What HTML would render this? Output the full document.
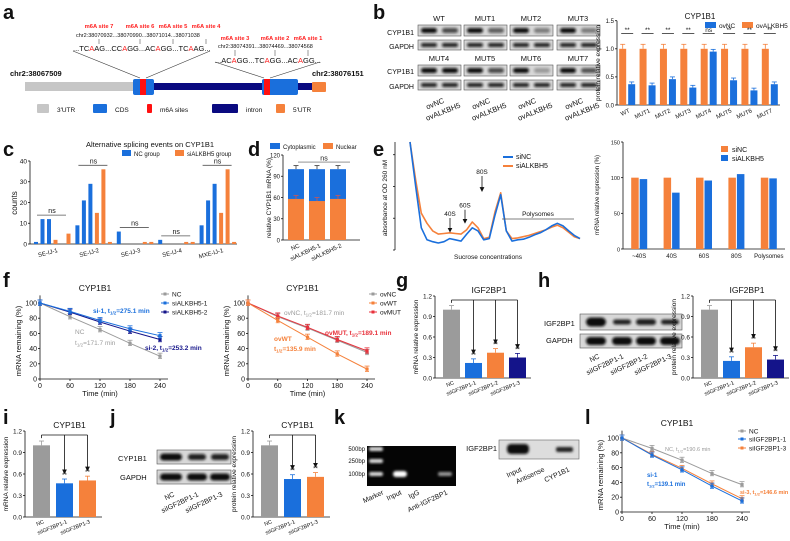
<!DOCTYPE html>
<html><head><meta charset="utf-8">
<style>
html,body{margin:0;padding:0;background:#fff;}
svg{display:block;font-family:"Liberation Sans",Arial,sans-serif;}
</style></head>
<body>
<svg id="fig" width="790" height="541" viewBox="0 0 790 541" xmlns="http://www.w3.org/2000/svg">
<defs>
<filter id="blur" x="-20%" y="-50%" width="140%" height="200%"><feGaussianBlur stdDeviation="1.2"/></filter>
<marker id="arr" markerWidth="6" markerHeight="6" refX="3" refY="3" orient="auto"><path d="M0,0 L6,3 L0,6 z" fill="#111"/></marker>
</defs>
<g id="root"></g>
</svg>
<script>
// ---------- data ----------
const bCats=["WT","MUT1","MUT2","MUT3","MUT4","MUT5","MUT6","MUT7"];
const bOvALKBH5=[1,1,1,1,1,1,1,1];
const bOvNC=[0.37,0.35,0.46,0.31,0.95,0.44,0.26,0.37];
const bSig=["**","**","**","**","ns","**","**","**"];
const cCats=["SE-IJ-1","SE-IJ-2","SE-IJ-3","SE-IJ-4","MXE-IJ-1"];
const cNC=[[1,12,12],[9,21,29],[6,0,0],[2,0,0],[9,21,29]];
const cSi=[[2,0,5],[15,36,1],[0,1,1],[0,1,1],[15,36,1]];
const dCats=["NC","siALKBH5-1","siALKBH5-2"];
const dNuclear=[58,55,58];
const dTotal=[100,100,100];
const eCats=["~40S","40S","60S","80S","Polysomes"];
const eSiNC=[100,100,100,100,100];
const eSiALKBH5=[98,79,96,105,99];
const eCurveNC=[1.9,1.2,0.55,0.36,0.33,0.31,0.33,0.38,0.36,0.34,0.45,0.55,0.5,0.36,0.38,0.75,1.07,0.5,0.34,0.36,0.37,0.4,0.44,0.47,0.52,0.58,0.62,0.58,0.5,0.43,0.38];
const eCurveSi=[1.9,1.3,0.78,0.62,0.5,0.45,0.46,0.47,0.46,0.45,0.52,0.64,0.55,0.38,0.4,0.8,1.1,0.5,0.38,0.39,0.41,0.43,0.46,0.49,0.52,0.56,0.59,0.55,0.48,0.41,0.38];
const times=[0,60,120,180,240];
const fNC=[100,82,65,47,30];
const fSi1=[100,89,77,66,57];
const fSi2=[100,88,75,63,52];
const fOvNC=[100,82,67,51,35];
const fOvWT=[100,77,55,33,13];
const fOvMUT=[100,83,68,52,37];
const gCats=["NC","siIGF2BP1-1","siIGF2BP1-2","siIGF2BP1-3"];
const gVals=[1.0,0.22,0.37,0.30];
const hVals=[1.0,0.25,0.45,0.27];
const iCats=["NC","siIGF2BP1-1","siIGF2BP1-3"];
const iVals=[1.0,0.47,0.51];
const jVals=[1.0,0.53,0.56];
const lNC=[100,86,70,52,37];
const lSi1=[100,77,57,35,15];
const lSi3=[100,78,59,38,18];

// ---------- helpers ----------
const NS="http://www.w3.org/2000/svg";
const root=document.getElementById('root');
const BLUE="#1a6fdc",ORANGE="#f5813b",GREY="#9b9b9b",NAVY="#14148a",RED="#e8323c";
function el(tag,attrs,parent,txt){const e=document.createElementNS(NS,tag);for(const k in attrs)e.setAttribute(k,attrs[k]);if(txt!==undefined)e.textContent=txt;(parent||root).appendChild(e);return e;}
function grp(name){const g=el('g',{});


return g;}
function txt(g,x,y,s,size,opt){opt=opt||{};const t=el('text',{x:x,y:y,'font-size':size,fill:opt.fill||'#111','text-anchor':opt.anchor||'start','font-weight':opt.bold?'bold':'normal'},g,s);if(opt.rot)t.setAttribute('transform','rotate('+opt.rot+' '+x+' '+y+')');return t;}
function line(g,x1,y1,x2,y2,c,w,extra){return el('line',Object.assign({x1:x1,y1:y1,x2:x2,y2:y2,stroke:c||'#111','stroke-width':w||0.8},extra||{}),g);}
function scale(d0,d1,r0,r1){return v=>r0+(v-d0)/(d1-d0)*(r1-r0);}
function yAxis(g,x,y,ticks,fmt,size){line(g,x,y(ticks[0]),x,y(ticks[ticks.length-1]),'#111',0.8);ticks.forEach(t=>{line(g,x-2,y(t),x,y(t));txt(g,x-3,y(t)+2.3,fmt(t),size||6.5,{anchor:'end'});});}
function panelLabel(s,x,y){const g=grp('panel-label-'+s);txt(g,x,y,s,20,{bold:true});}
function blot(g,x,y,w,h,bands,name){const b=grp(name);g.appendChild(b);el('rect',{x:x,y:y,width:w,height:h,fill:'#d8d8d8',stroke:'#555','stroke-width':0.6},b);bands.forEach(bd=>{el('rect',{x:bd[0]-bd[1]/2,y:y+h/2-bd[2]/2,width:bd[1],height:bd[2],rx:bd[2]/2,fill:'#111',opacity:bd[3]||1,filter:'url(#blur)'},b);});}
function errbar(g,x,ytop,yerr,c){line(g,x,ytop,x,yerr,c,0.8);line(g,x-2.5,yerr,x+2.5,yerr,c,0.8);}

// ---------- panel a ----------
panelLabel('a',3,19);
(function(){const g=grp('panel-a-gene-structure');
el('rect',{x:25,y:82,width:110,height:9,fill:'#c6c6c6'},g);
el('rect',{x:154,y:83,width:108,height:7,fill:'#0a0a80'},g);
el('rect',{x:297,y:83,width:16,height:7,fill:'#0a0a80'},g);
el('rect',{x:133,y:79,width:21,height:16,rx:2,fill:BLUE},g);
el('rect',{x:262,y:79,width:36,height:16,rx:2,fill:BLUE},g);
el('rect',{x:140,y:79,width:6,height:16,fill:'#ff1010'},g);
el('rect',{x:264,y:79,width:6,height:16,fill:'#ff1010'},g);
el('rect',{x:312,y:82,width:14,height:10,rx:1,fill:ORANGE},g);
txt(g,10,76,'chr2:38067509',7.5,{bold:true});
txt(g,312,76,'chr2:38076151',7.5,{bold:true});
line(g,73,51,140,78,'#333',0.6);line(g,210,51,146,78,'#333',0.6);
line(g,215,62,264,78,'#333',0.6);line(g,320,62,270,78,'#333',0.6);
const s1=['m6A site 7','m6A site 6','m6A site 5','m6A site 4'],x1=[99,140,173,206];
s1.forEach((s,i)=>txt(g,x1[i],28,s,5.8,{fill:'#ff1f1f',anchor:'middle',bold:true}));
txt(g,76,37,'chr2:38070932...38070990...38071014...38071038',5.5);
x1.forEach(x=>line(g,x,39,x,44,'#333',0.5));
const t1=el('text',{x:73,y:51,'font-size':7.5,fill:'#111'},g);t1.innerHTML='...TC<tspan fill="#ff1f1f">A</tspan>AG...CC<tspan fill="#ff1f1f">A</tspan>GG...AC<tspan fill="#ff1f1f">A</tspan>GG...TC<tspan fill="#ff1f1f">A</tspan>AG...';
const s2=['m6A site 3','m6A site 2','m6A site 1'],x2=[235,275,308];
s2.forEach((s,i)=>txt(g,x2[i],40,s,5.8,{fill:'#ff1f1f',anchor:'middle',bold:true}));
txt(g,218,48,'chr2:38074391...38074469...38074568',5.5);
x2.forEach(x=>line(g,x,50,x,56,'#333',0.5));
const t2=el('text',{x:215,y:63,'font-size':7.5,fill:'#111'},g);t2.innerHTML='...AC<tspan fill="#ff1f1f">A</tspan>GG...TC<tspan fill="#ff1f1f">A</tspan>GG...AC<tspan fill="#ff1f1f">A</tspan>GG...';
const lg=[[37,'#c6c6c6',12,"3'UTR"],[93,BLUE,14,'CDS'],[147,'#ff1010',5,'m6A sites'],[212,'#0a0a80',26,'intron'],[276,ORANGE,9,"5'UTR"]];
lg.forEach(l=>{el('rect',{x:l[0],y:104,width:l[2],height:9,rx:1,fill:l[1]},g);txt(g,l[0]+l[2]+8,112,l[3],6.5);});
})();

// ---------- panel b ----------
panelLabel('b',373,19);
(function(){const g=grp('panel-b-blots');
txt(g,414,35,'CYP1B1',7,{anchor:'end'});txt(g,414,49,'GAPDH',7,{anchor:'end'});
txt(g,414,74,'CYP1B1',7,{anchor:'end'});txt(g,414,89,'GAPDH',7,{anchor:'end'});
const names=[['WT','MUT1','MUT2','MUT3'],['MUT4','MUT5','MUT6','MUT7']];
const cols=[418,464,510,557];
const ncOp=[[0.7,0.6,0.45,0.45],[1,0.7,0.3,0.65]];
for(let r=0;r<2;r++)for(let c=0;c<4;c++){const x=cols[c],y=r?58:18;
txt(g,x+21,y+3,names[r][c],7.5,{anchor:'middle'});
blot(g,x,y+7,43,11,[[x+11,16,5,1],[x+32,16,5,ncOp[r][c]]],'blot-cyp1b1-'+names[r][c]);
blot(g,x,y+22,43,10,[[x+11,16,4,0.9],[x+32,16,4,0.9]],'blot-gapdh-'+names[r][c]);}
for(let c=0;c<4;c++){const x=cols[c];txt(g,x+18,106,'ovNC',7.5,{anchor:'middle',rot:-22});txt(g,x+26,114,'ovALKBH5',7.5,{anchor:'middle',rot:-22});}
const c=grp('panel-b-chart');
const y=scale(0,1.5,105,20.7);const x0=617,x1=780,bw=(x1-x0)/bCats.length;
yAxis(c,x0,y,[0,0.5,1.0,1.5],v=>v.toFixed(1),6);line(c,x0,105,x1,105);
txt(c,x0-17,63,'protein relative expression',6.5,{anchor:'middle',rot:-90});
txt(c,700,19,'CYP1B1',8,{anchor:'middle'});
el('rect',{x:705,y:22,width:11,height:6,fill:BLUE},c);txt(c,719,28,'ovNC',6.5);
el('rect',{x:742,y:22,width:11,height:6,fill:ORANGE},c);txt(c,756,28,'ovALKBH5',6.5);
bCats.forEach((cat,i)=>{const cx=x0+bw*(i+0.5);
el('rect',{x:cx-8,y:y(bOvALKBH5[i]),width:7,height:105-y(bOvALKBH5[i]),fill:ORANGE},c);
errbar(c,cx-4.5,y(bOvALKBH5[i]),y(bOvALKBH5[i]+0.08),ORANGE);
el('rect',{x:cx+1,y:y(bOvNC[i]),width:7,height:105-y(bOvNC[i]),fill:BLUE},c);
errbar(c,cx+4.5,y(bOvNC[i]),y(bOvNC[i]+0.04),BLUE);
line(c,cx-6,y(1.27),cx+6,y(1.27),'#111',0.7);txt(c,cx,y(1.3),bSig[i],6.5,{anchor:'middle'});
txt(c,cx+3,112,cat,6,{anchor:'end',rot:-25});});
})();

// ---------- panel c ----------
panelLabel('c',3,156);
(function(){const c=grp('panel-c-chart');
const y=scale(0,40,244,161);const x0=30,x1=237;
yAxis(c,x0,y,[0,10,20,30,40],v=>v,6.5);line(c,x0,244,x1,244);
txt(c,17,203,'counts',8,{anchor:'middle',rot:-90});
txt(c,150,147,'Alternative splicing events on CYP1B1',7.5,{anchor:'middle'});
el('rect',{x:122,y:150,width:9,height:6,fill:BLUE},c);txt(c,134,156,'NC group',6);
el('rect',{x:175,y:150,width:9,height:6,fill:ORANGE},c);txt(c,187,156,'siALKBH5 group',6);
const gw=(x1-x0)/cCats.length;
cCats.forEach((cat,i)=>{const gx=x0+gw*i+4;const vals=cNC[i].concat(cSi[i]);
vals.forEach((v,j)=>{el('rect',{x:gx+j*6.5,y:y(v),width:4,height:244-y(v),fill:j<3?BLUE:ORANGE},c);});
const mx=Math.max(...vals);const ly=y(mx)-4;line(c,gx+3,ly,gx+32,ly,'#555',0.8);txt(c,gx+18,ly-2,'ns',7,{anchor:'middle'});
txt(c,gx+24,252,cat,6,{anchor:'end',rot:-15});});
})();

// ---------- panel d ----------
panelLabel('d',248,156);
(function(){const c=grp('panel-d-chart');
const y=scale(0,120,240,155);const x0=283,x1=360;
yAxis(c,x0,y,[0,30,60,90,120],v=>v,6);line(c,x0,240,x1,240);
txt(c,271,198,'relative CYP1B1 mRNA (%)',6.5,{anchor:'middle',rot:-90});
el('rect',{x:270,y:143,width:10,height:6,fill:BLUE},c);txt(c,283,149,'Cytoplasmic',6);
el('rect',{x:323,y:143,width:10,height:6,fill:ORANGE},c);txt(c,336,149,'Nuclear',6);
line(c,298,y(110),350,y(110),'#555',0.7);txt(c,324,y(112),'ns',7,{anchor:'middle'});
dCats.forEach((cat,i)=>{const cx=x0+4+i*21+9;
el('rect',{x:cx-8,y:y(dTotal[i]),width:16,height:240-y(dTotal[i]),fill:BLUE},c);
el('rect',{x:cx-8,y:y(dNuclear[i]),width:16,height:240-y(dNuclear[i]),fill:ORANGE},c);
errbar(c,cx,y(dTotal[i]),y(dTotal[i]+5),'#333');errbar(c,cx,y(dNuclear[i]),y(dNuclear[i]+5),'#c55');
txt(c,cx+4,247,cat,6,{anchor:'end',rot:-25});});
})();

// ---------- panel e ----------
panelLabel('e',373,156);
(function(){const c=grp('panel-e-profile');
const x0=395,x1=580;const y=scale(0.2,1.9,250,142);
line(c,x0,142,x0,250);[0.2,0.7,1.2,1.7].forEach(t=>line(c,x0-2,y(t),x0,y(t)));
txt(c,387,198,'absorbance at OD 260 nM',6.5,{anchor:'middle',rot:-90});
txt(c,488,259,'Sucrose concentrations',6.5,{anchor:'middle'});
const xs=scale(0,eCurveNC.length-1,x0+15,x1);
function path(a,col){let d='';a.forEach((v,i)=>{d+=(i?'L':'M')+xs(i).toFixed(1)+','+y(v).toFixed(1);});return el('path',{d:d,fill:'none',stroke:col,'stroke-width':1.6,'stroke-linejoin':'round'},c);}
path(eCurveSi,ORANGE);path(eCurveNC,BLUE);
line(c,503,157,513,157,BLUE,2);txt(c,516,159,'siNC',7);
line(c,503,166,513,166,ORANGE,2);txt(c,516,168,'siALKBH5',7);
[[450,'40S',0.48,0.72],[465,'60S',0.62,0.85],[482,'80S',1.12,1.38]].forEach(a=>{txt(c,a[0],y(a[3])-1,a[1],6.5,{anchor:'middle'});line(c,a[0],y(a[3])+1,a[0],y(a[2])-2,'#111',0.8,{'marker-end':'url(#arr)'});});
line(c,502,219,574,219,'#555',0.8);txt(c,538,216,'Polysomes',6.5,{anchor:'middle'});
const b=grp('panel-e-bars');
const yb=scale(0,150,249,142);const bx0=623,bx1=785;
yAxis(b,bx0,yb,[0,50,100,150],v=>v,5.5);line(b,bx0,249,bx1,249);
txt(b,599,195,'mRNA relative expression (%)',6,{anchor:'middle',rot:-90});
el('rect',{x:721,y:146,width:7,height:6,fill:ORANGE},b);txt(b,732,152,'siNC',7);
el('rect',{x:721,y:155,width:7,height:6,fill:BLUE},b);txt(b,732,161,'siALKBH5',7);
const bw=(bx1-bx0)/eCats.length;
eCats.forEach((cat,i)=>{const cx=bx0+bw*(i+0.5);
el('rect',{x:cx-8,y:yb(eSiNC[i]),width:7.5,height:249-yb(eSiNC[i]),fill:ORANGE},b);
el('rect',{x:cx+0.5,y:yb(eSiALKBH5[i]),width:7.5,height:249-yb(eSiALKBH5[i]),fill:BLUE},b);
txt(b,cx,258,cat,6,{anchor:'middle'});});
})();

// ---------- line chart helper ----------
function lineChart(name,x0,x1,yTop,yBot,series,legend,title){const c=grp(name);
const yy=scale(0,100,yBot,yTop);const x=scale(0,240,x0,x1);
line(c,x0,yBot,x0,yy(110));[0,20,40,60,80,100].forEach(t=>{line(c,x0-2,yy(t),x0,yy(t));txt(c,x0-3,yy(t)+2.5,t,7,{anchor:'end'});});
line(c,x0,yBot,x1+8,yBot);times.forEach(t=>{line(c,x(t),yBot,x(t),yBot+2);txt(c,x(t),yBot+9,t,7,{anchor:'middle'});});
txt(c,(x0+x1)/2,yBot+17,'Time (min)',7.5,{anchor:'middle'});
txt(c,x0-19,(yTop+yBot)/2,'mRNA remaining (%)',7.5,{anchor:'middle',rot:-90});
txt(c,(x0+x1)/2-5,yTop-12,title,8.5,{anchor:'middle'});
series.forEach(s=>{let d='';s.v.forEach((v,i)=>{d+=(i?'L':'M')+x(times[i])+','+yy(v);});el('path',{d:d,fill:'none',stroke:s.c,'stroke-width':1},c);
s.v.forEach((v,i)=>{errbar(c,x(times[i]),yy(v-3),yy(v+4),s.c);line(c,x(times[i])-2,yy(v-3),x(times[i])+2,yy(v-3),s.c,0.8);el('rect',{x:x(times[i])-1.6,y:yy(v)-1.6,width:3.2,height:3.2,fill:s.c},c);});});
legend.forEach(l=>{line(c,l.x,l.y,l.x+8,l.y,l.c,1);el('rect',{x:l.x+2.5,y:l.y-1.5,width:3,height:3,fill:l.c},c);txt(c,l.x+11,l.y+2.5,l.t,6.5);});
return {g:c,x:x,y:yy};}

// ---------- panel f ----------
panelLabel('f',3,287);
(function(){const L=lineChart('panel-f-left',40,160,303,379,[{v:fNC,c:GREY},{v:fSi2,c:NAVY},{v:fSi1,c:BLUE}],
[{x:161,y:294,c:GREY,t:'NC'},{x:161,y:303,c:BLUE,t:'siALKBH5-1'},{x:161,y:312,c:NAVY,t:'siALKBH5-2'}],'CYP1B1');
const t=L.g;const a=el('text',{x:93,y:313,'font-size':6.5,fill:BLUE,'font-weight':'bold'},t);a.innerHTML='si-1, t<tspan font-size="4.5" dy="1.5">1/2</tspan><tspan dy="-1.5">=275.1 min</tspan>';
const b=el('text',{x:145,y:350,'font-size':6.5,fill:NAVY,'font-weight':'bold'},t);b.innerHTML='si-2, t<tspan font-size="4.5" dy="1.5">1/2</tspan><tspan dy="-1.5">=253.2 min</tspan>';
txt(t,75,334,'NC',6.5,{fill:GREY});const n=el('text',{x:75,y:345,'font-size':6.5,fill:GREY},t);n.innerHTML='t<tspan font-size="4.5" dy="1.5">1/2</tspan><tspan dy="-1.5">=171.7 min</tspan>';
const R=lineChart('panel-f-right',248,367,303,379,[{v:fOvNC,c:GREY},{v:fOvMUT,c:RED},{v:fOvWT,c:ORANGE}],
[{x:369,y:294,c:GREY,t:'ovNC'},{x:369,y:303,c:ORANGE,t:'ovWT'},{x:369,y:312,c:RED,t:'ovMUT'}],'CYP1B1');
const r=R.g;const p=el('text',{x:284,y:315,'font-size':6.5,fill:GREY},r);p.innerHTML='ovNC, t<tspan font-size="4.5" dy="1.5">1/2</tspan><tspan dy="-1.5">=181.7 min</tspan>';
const q=el('text',{x:325,y:335,'font-size':6.5,fill:RED,'font-weight':'bold'},r);q.innerHTML='ovMUT, t<tspan font-size="4.5" dy="1.5">1/2</tspan><tspan dy="-1.5">=189.1 min</tspan>';
txt(r,274,341,'ovWT',6.5,{fill:ORANGE,bold:true});const w=el('text',{x:274,y:351,'font-size':6.5,fill:ORANGE,'font-weight':'bold'},r);w.innerHTML='t<tspan font-size="4.5" dy="1.5">1/2</tspan><tspan dy="-1.5">=135.9 min</tspan>';
})();

// ---------- bar chart with arrows ----------
function arrowBars(name,x0,yTop,yBot,bw,gap,cats,vals,cols,ylab,title){const c=grp(name);
const y=scale(0,1.2,yBot,yTop);const n=cats.length;const x1=x0+8+n*(bw+gap);
yAxis(c,x0,y,[0,0.3,0.6,0.9,1.2],v=>v.toFixed(1),6.5);line(c,x0,yBot,x1,yBot);
txt(c,x0-17,(yTop+yBot)/2,ylab,6.5,{anchor:'middle',rot:-90});
txt(c,(x0+x1)/2+6,yTop-3,title,8.5,{anchor:'middle'});
const cxs=[];
cats.forEach((cat,i)=>{const cx=x0+8+i*(bw+gap)+bw/2;cxs.push(cx);
el('rect',{x:cx-bw/2,y:y(vals[i]),width:bw,height:yBot-y(vals[i]),fill:cols[i]},c);
errbar(c,cx,y(vals[i]),y(vals[i]+0.06),cols[i]);
txt(c,cx+3,yBot+6,cat,5.5,{anchor:'end',rot:-22});
if(i>0){txt(c,cx,y(vals[i]+0.09),'**',6,{anchor:'middle'});line(c,cx,yTop+4,cx,y(vals[i]+0.16),'#111',0.8,{'marker-end':'url(#arr)'});}});
line(c,cxs[0],y(1.1),cxs[0],yTop+4,'#111',0.8);line(c,cxs[0],yTop+4,cxs[cxs.length-1],yTop+4,'#111',0.8);
return c;}

panelLabel('g',396,287);
arrowBars('panel-g-chart',435,296,378,17,5,gCats,gVals,[GREY,BLUE,ORANGE,NAVY],'mRNA relative expression','IGF2BP1');
panelLabel('h',538,287);
(function(){const g=grp('panel-h-blot');
txt(g,544,326,'IGF2BP1',7.5);txt(g,546,343,'GAPDH',7.5);
blot(g,580,314,102,16,[[596,20,9,1],[622,18,5,0.9],[646,20,6,0.9],[670,18,5,0.9]],'blot-igf2bp1');
blot(g,580,334,102,14,[[596,20,8,1],[622,20,8,1],[646,20,8,1],[670,20,8,1]],'blot-gapdh-h');
['NC','siIGF2BP1-1','siIGF2BP1-2','siIGF2BP1-3'].forEach((s,i)=>txt(g,600+i*24,358,s,7,{anchor:'end',rot:-25}));})();
arrowBars('panel-h-chart',693,296,378,17,5,gCats,hVals,[GREY,BLUE,ORANGE,NAVY],'protein relative expression','IGF2BP1');

panelLabel('i',3,424);
arrowBars('panel-i-chart',25,431,517,17,6,iCats,iVals,[GREY,BLUE,ORANGE],'mRNA relative expression','CYP1B1');
panelLabel('j',110,424);
(function(){const g=grp('panel-j-blot');
txt(g,118,461,'CYP1B1',7.5);txt(g,120,480,'GAPDH',7.5);
blot(g,157,450,74,14,[[171,22,7,1],[197,18,6,0.9],[220,18,6,0.9]],'blot-cyp1b1-j');
blot(g,157,470,74,14,[[171,22,7,1],[197,20,7,1],[220,20,7,1]],'blot-gapdh-j');
['NC','siIGF2BP1-1','siIGF2BP1-3'].forEach((s,i)=>txt(g,175+i*24,496,s,7,{anchor:'end',rot:-25}));})();
arrowBars('panel-j-chart',253,431,517,17,6,iCats,jVals,[GREY,BLUE,ORANGE],'protein relative expression','CYP1B1');

panelLabel('k',334,424);
(function(){const g=grp('panel-k-gel');
el('rect',{x:367,y:446,width:89,height:40,fill:'#050505'},g);
[449,461,474].forEach(yy=>{el('rect',{x:369,y:yy-2,width:14,height:4,rx:2,fill:'#ddd',filter:'url(#blur)'},g);});
el('rect',{x:393,y:471,width:14,height:6,rx:3,fill:'#fff',filter:'url(#blur)'},g);
el('rect',{x:438,y:472,width:14,height:4,rx:2,fill:'#999',filter:'url(#blur)'},g);
txt(g,365,451,'500bp',6,{anchor:'end'});txt(g,365,463,'250bp',6,{anchor:'end'});txt(g,365,476,'100bp',6,{anchor:'end'});
['Marker','Input','IgG','Anti-IGF2BP1'].forEach((s,i)=>txt(g,[384,402,420,448][i],494,s,7,{anchor:'end',rot:-25}));
txt(g,497,451,'IGF2BP1',7.5,{anchor:'end'});
el('rect',{x:499,y:440,width:80,height:19,fill:'#ddd',stroke:'#666','stroke-width':0.6},g);
el('rect',{x:507,y:444,width:22,height:10,rx:4,fill:'#111',filter:'url(#blur)'},g);
el('rect',{x:556,y:447,width:17,height:5,rx:2,fill:'#222',filter:'url(#blur)'},g);
['Input','Antisense','CYP1B1'].forEach((s,i)=>txt(g,[522,545,570][i],471,s,7,{anchor:'end',rot:-25}));})();

panelLabel('l',585,424);
(function(){const L=lineChart('panel-l-chart',622,742,438,512,[{v:lNC,c:GREY},{v:lSi3,c:ORANGE},{v:lSi1,c:BLUE}],
[{x:738,y:431,c:GREY,t:'NC'},{x:738,y:439,c:BLUE,t:'siIGF2BP1-1'},{x:738,y:448,c:ORANGE,t:'siIGF2BP1-3'}],'CYP1B1');
const t=L.g;const a=el('text',{x:665,y:451,'font-size':5.5,fill:GREY},t);a.innerHTML='NC, t<tspan font-size="4" dy="1.5">1/2</tspan><tspan dy="-1.5">=190.6 min</tspan>';
txt(t,647,477,'si-1',6,{fill:BLUE,bold:true});const b=el('text',{x:647,y:486,'font-size':6,fill:BLUE,'font-weight':'bold'},t);b.innerHTML='t<tspan font-size="4" dy="1.5">1/2</tspan><tspan dy="-1.5">=139.1 min</tspan>';
const c=el('text',{x:740,y:494,'font-size':5.5,fill:ORANGE,'font-weight':'bold'},t);c.innerHTML='si-3, t<tspan font-size="4" dy="1.5">1/2</tspan><tspan dy="-1.5">=146.6 min</tspan>';})();
</script>
</body></html>
